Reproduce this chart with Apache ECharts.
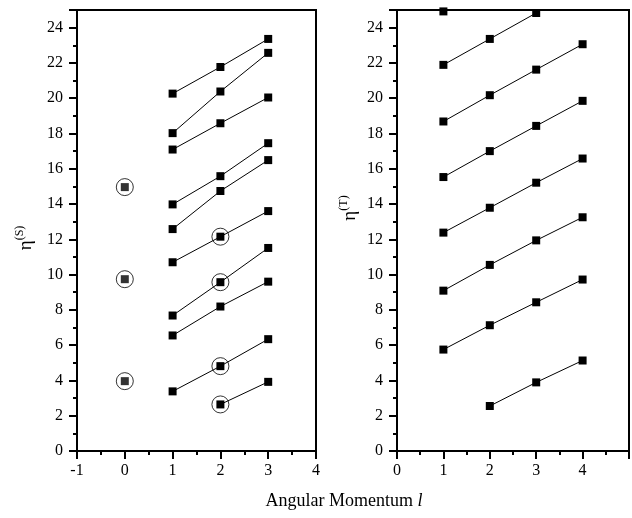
<!DOCTYPE html>
<html>
<head>
<meta charset="utf-8">
<script src="https://cdn.jsdelivr.net/npm/echarts@6/dist/echarts.min.js"></script>
<style>
  html, body { margin: 0; padding: 0; background: #fff; }
  #chart { width: 632px; height: 518px; }
</style>
</head>
<body>
<div id="chart"></div>
<script>
// singlet lines, eta(S) vs l
var singletLines = [
  [[1, 20.26], [2, 21.77], [3, 23.36]],
  [[1, 18.02], [2, 20.38], [3, 22.57]],
  [[1, 17.09], [2, 18.58], [3, 20.04]],
  [[1, 13.98], [2, 15.58], [3, 17.45]],
  [[1, 12.58], [2, 14.74], [3, 16.49]],
  [[1, 10.70], [2, 12.15], [3, 13.60]],
  [[1, 7.68], [2, 9.57], [3, 11.51]],
  [[1, 6.55], [2, 8.19], [3, 9.60]],
  [[1, 3.38], [2, 4.81], [3, 6.34]],
  [[2, 2.64], [3, 3.92]]
];
var singletAlone = [[0, 14.96], [0, 9.74], [0, 3.96]];
var singletCircled = [[0, 14.96], [0, 9.74], [0, 3.96], [2, 12.15], [2, 9.57], [2, 4.81], [2, 2.64]];

// triplet lines, eta(T) vs l
var tripletLines = [
  [[1, 24.92]],
  [[1, 21.89], [2, 23.36], [3, 24.83]],
  [[1, 18.68], [2, 20.17], [3, 21.62], [4, 23.06]],
  [[1, 15.53], [2, 17.00], [3, 18.43], [4, 19.85]],
  [[1, 12.38], [2, 13.79], [3, 15.21], [4, 16.58]],
  [[1, 9.09], [2, 10.55], [3, 11.94], [4, 13.25]],
  [[1, 5.75], [2, 7.13], [3, 8.43], [4, 9.72]],
  [[2, 2.55], [3, 3.89], [4, 5.13]]
];

var xTitle = 'Angular Momentum ';
var serif = 'Liberation Serif';

var chart = echarts.init(document.getElementById('chart'));

function xAx(idx, mn, mx) {
  return {
    type: 'value', gridIndex: idx, min: mn, max: mx, interval: 1,
    axisLine: { onZero: false, lineStyle: { color: '#000', width: 2 } },
    axisTick: { length: 8, lineStyle: { color: '#000', width: 2 } },
    minorTick: { show: true, splitNumber: 2, length: 4, lineStyle: { color: '#000', width: 2 } },
    axisLabel: {
      color: '#000', fontFamily: serif, fontSize: 16, margin: 12,
      formatter: function (v) { return v > 4 ? '' : String(v); }
    },
    splitLine: { show: false }
  };
}
function yAx(idx) {
  return {
    type: 'value', gridIndex: idx, min: 0, max: 25, interval: 2,
    axisLine: { onZero: false, lineStyle: { color: '#000', width: 2 } },
    axisTick: { length: 8, lineStyle: { color: '#000', width: 2 } },
    minorTick: { show: true, splitNumber: 2, length: 4, lineStyle: { color: '#000', width: 2 } },
    axisLabel: {
      color: '#000', fontFamily: serif, fontSize: 16, margin: 14, showMaxLabel: false,
      formatter: function (v) { return v > 24 ? '' : String(v); }
    },
    splitLine: { show: false }
  };
}

var series = [];
function addLines(list, xi, yi) {
  list.forEach(function (pts) {
    series.push({
      type: 'line', xAxisIndex: xi, yAxisIndex: yi, data: pts,
      symbol: 'rect', symbolSize: 8, showSymbol: true,
      lineStyle: { color: '#000', width: 1 },
      itemStyle: { color: '#000' }
    });
  });
}
addLines(singletLines, 0, 0);
addLines(tripletLines, 1, 1);
series.push({
  type: 'scatter', xAxisIndex: 0, yAxisIndex: 0, data: singletAlone,
  symbol: 'rect', symbolSize: 8, itemStyle: { color: '#000' }
});
series.push({
  type: 'scatter', xAxisIndex: 0, yAxisIndex: 0, data: singletCircled,
  symbol: 'circle', symbolSize: 17,
  itemStyle: { color: 'rgba(0,0,0,0)', borderColor: '#000', borderWidth: 1 }
});

var option = {
  animation: false,
  backgroundColor: '#fff',
  grid: [
    { left: 77, top: 10, width: 239, height: 441, show: true, borderColor: '#000', borderWidth: 2 },
    { left: 397, top: 10, width: 239, height: 441, show: true, borderColor: '#000', borderWidth: 2 }
  ],
  xAxis: [xAx(0, -1, 4), xAx(1, 0, 5)],
  yAxis: [yAx(0), yAx(1)],
  graphic: [
    {
      type: 'text', x: 25, y: 238, rotation: Math.PI / 2,
      style: {
        text: '{a|η}{b|(S)}', align: 'center', verticalAlign: 'middle',
        rich: {
          a: { fontFamily: serif, fontSize: 19, fill: '#000', verticalAlign: 'bottom', lineHeight: 22 },
          b: { fontFamily: serif, fontSize: 12, fill: '#000', verticalAlign: 'top', lineHeight: 22 }
        }
      }
    },
    {
      type: 'text', x: 349, y: 208, rotation: Math.PI / 2,
      style: {
        text: '{a|η}{b|(T)}', align: 'center', verticalAlign: 'middle',
        rich: {
          a: { fontFamily: serif, fontSize: 19, fill: '#000', verticalAlign: 'bottom', lineHeight: 22 },
          b: { fontFamily: serif, fontSize: 12, fill: '#000', verticalAlign: 'top', lineHeight: 22 }
        }
      }
    },
    {
      type: 'text', x: 344, y: 501,
      style: {
        text: '{a|' + xTitle + '}{i|l}', align: 'center', verticalAlign: 'middle',
        rich: {
          a: { fontFamily: serif, fontSize: 18, fill: '#000' },
          i: { fontFamily: serif, fontSize: 18, fontStyle: 'italic', fill: '#000' }
        }
      }
    }
  ],
  series: series
};
chart.setOption(option);
</script>
</body>
</html>
